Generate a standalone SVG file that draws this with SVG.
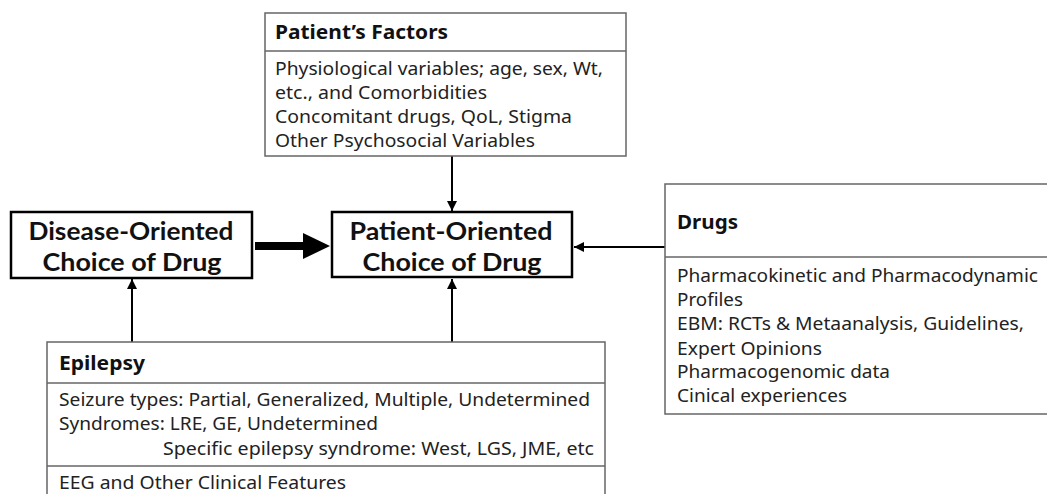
<svg xmlns="http://www.w3.org/2000/svg" width="1047" height="494" viewBox="0 0 1047 494">
<style>
.thin{fill:#fff;stroke:#666;stroke-width:1.5}
.div{stroke:#666;stroke-width:1.5}
.main{fill:#fff;stroke:#000;stroke-width:2.5}
.title{font-family:Lato,"Liberation Sans",sans-serif;font-weight:bold;font-size:25px;fill:#111;text-anchor:middle}
.head{font-family:"Noto Sans","Open Sans",sans-serif;font-weight:bold;font-size:19px;fill:#111}
.body{font-family:"Noto Sans","Open Sans",sans-serif;font-size:17.5px;fill:#222}
.conn{stroke:#000;stroke-width:2;fill:none}
</style>
<defs>
<marker id="ah" viewBox="0 0 10 10" refX="10" refY="5" markerWidth="5" markerHeight="5" orient="auto" markerUnits="strokeWidth">
<path d="M0,0 L10,5 L0,10 Z" fill="#000"/>
</marker>
</defs>
<rect width="1047" height="494" fill="#fff"/>

<g id="connectors">
<line class="conn" x1="452" y1="156" x2="452" y2="211" marker-end="url(#ah)"/>
<line class="conn" x1="665" y1="247" x2="574" y2="247" marker-end="url(#ah)"/>
<line class="conn" x1="132" y1="342" x2="132" y2="279" marker-end="url(#ah)"/>
<line class="conn" x1="452" y1="342" x2="452" y2="279" marker-end="url(#ah)"/>
<polygon points="255,242 303,242 303,233 330,246 303,259 303,250 255,250" fill="#000"/>
</g>

<g id="patients-factors">
<rect class="thin" x="265" y="13" width="361" height="143"/>
<line class="div" x1="265" y1="51" x2="626" y2="51"/>
<text class="head" x="275" y="39" textLength="173" lengthAdjust="spacingAndGlyphs">Patient’s Factors</text>
<text class="body" x="275" y="75" textLength="328" lengthAdjust="spacingAndGlyphs">Physiological variables; age, sex, Wt,</text>
<text class="body" x="275" y="99" textLength="212" lengthAdjust="spacingAndGlyphs">etc., and Comorbidities</text>
<text class="body" x="275" y="123" textLength="297" lengthAdjust="spacingAndGlyphs">Concomitant drugs, QoL, Stigma</text>
<text class="body" x="275" y="147" textLength="260" lengthAdjust="spacingAndGlyphs">Other Psychosocial Variables</text>
</g>

<g id="disease-oriented">
<rect class="main" x="11" y="212" width="241" height="66"/>
<text class="title" x="131" y="240" textLength="205" lengthAdjust="spacingAndGlyphs">Disease-Oriented</text>
<text class="title" x="132" y="271" textLength="179" lengthAdjust="spacingAndGlyphs">Choice of Drug</text>
</g>

<g id="patient-oriented">
<rect class="main" x="332" y="212" width="240" height="65"/>
<text class="title" x="451" y="240" textLength="203" lengthAdjust="spacingAndGlyphs">Patient-Oriented</text>
<text class="title" x="452" y="271" textLength="179" lengthAdjust="spacingAndGlyphs">Choice of Drug</text>
</g>

<g id="drugs">
<rect class="thin" x="665" y="184" width="390" height="230"/>
<line class="div" x1="665" y1="257" x2="1047" y2="257"/>
<text class="head" x="677" y="229" textLength="61" lengthAdjust="spacingAndGlyphs">Drugs</text>
<text class="body" x="677" y="282" textLength="361" lengthAdjust="spacingAndGlyphs">Pharmacokinetic and Pharmacodynamic</text>
<text class="body" x="677" y="306" textLength="66" lengthAdjust="spacingAndGlyphs">Profiles</text>
<text class="body" x="677" y="330" textLength="347" lengthAdjust="spacingAndGlyphs">EBM: RCTs &amp; Metaanalysis, Guidelines,</text>
<text class="body" x="677" y="355" textLength="145" lengthAdjust="spacingAndGlyphs">Expert Opinions</text>
<text class="body" x="677" y="378" textLength="213" lengthAdjust="spacingAndGlyphs">Pharmacogenomic data</text>
<text class="body" x="677" y="402" textLength="170" lengthAdjust="spacingAndGlyphs">Cinical experiences</text>
</g>

<g id="epilepsy">
<rect class="thin" x="47" y="342" width="558" height="160"/>
<line class="div" x1="47" y1="383" x2="605" y2="383"/>
<line class="div" x1="47" y1="466" x2="605" y2="466"/>
<text class="head" x="59" y="370" textLength="86" lengthAdjust="spacingAndGlyphs">Epilepsy</text>
<text class="body" x="59" y="406" textLength="531" lengthAdjust="spacingAndGlyphs">Seizure types: Partial, Generalized, Multiple, Undetermined</text>
<text class="body" x="59" y="430" textLength="319" lengthAdjust="spacingAndGlyphs">Syndromes: LRE, GE, Undetermined</text>
<text class="body" x="163" y="455" textLength="431" lengthAdjust="spacingAndGlyphs">Specific epilepsy syndrome: West, LGS, JME, etc</text>
<text class="body" x="59" y="489" textLength="287" lengthAdjust="spacingAndGlyphs">EEG and Other Clinical Features</text>
</g>
</svg>
